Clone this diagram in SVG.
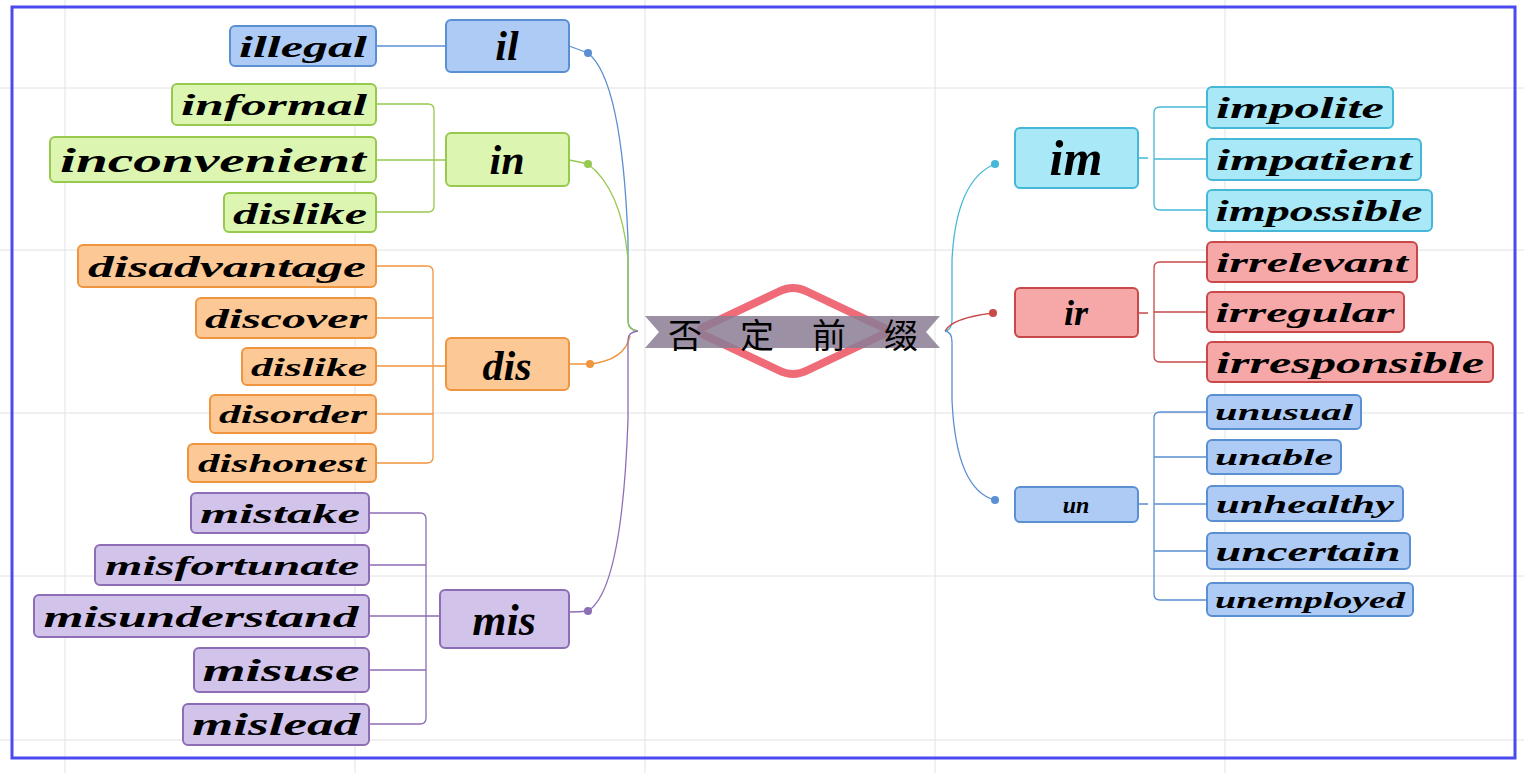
<svg xmlns="http://www.w3.org/2000/svg" width="1524" height="773" viewBox="0 0 1524 773">
<defs>
<style>
text{font-family:"Liberation Serif","Times New Roman",serif;font-weight:bold;font-style:italic;fill:#000;text-anchor:middle;dominant-baseline:central}
.b rect{fill:#aecbf6;stroke:#5a8fd2;stroke-width:2}
.g rect{fill:#dcf5b0;stroke:#98c94f;stroke-width:2}
.o rect{fill:#fcc895;stroke:#f0953f;stroke-width:2}
.p rect{fill:#d2c3ea;stroke:#8d6eb6;stroke-width:2}
.c rect{fill:#a8e8f7;stroke:#45b8d8;stroke-width:2}
.r rect{fill:#f6a8a8;stroke:#c94848;stroke-width:2}
.grid line{stroke:#e2e2e2;stroke-width:1}
.cn path{fill:none;stroke-width:1.3}
</style>
</defs>
<rect width="1524" height="773" fill="#fff"/>
<g class="grid">
<line x1="65" y1="0" x2="65" y2="773"/><line x1="355" y1="0" x2="355" y2="773"/><line x1="645" y1="0" x2="645" y2="773"/><line x1="935" y1="0" x2="935" y2="773"/><line x1="1225" y1="0" x2="1225" y2="773"/>
<line x1="0" y1="88" x2="1524" y2="88"/><line x1="0" y1="250" x2="1524" y2="250"/><line x1="0" y1="413" x2="1524" y2="413"/><line x1="0" y1="576" x2="1524" y2="576"/><line x1="0" y1="740" x2="1524" y2="740"/>
</g>
<rect x="12" y="7" width="1503" height="751" fill="none" stroke="#4a4af0" stroke-width="3"/>
<g id="connectors" class="cn">
<path d="M376 46H446" stroke="#5a8fd2"/>
<path d="M376 104H428Q434 104 434 110V206Q434 212 428 212H376M376 160H446" stroke="#98c94f"/>
<path d="M376 266H427Q433 266 433 272V457Q433 463 427 463H376M376 318H433M376 366H446M376 414H433" stroke="#f0953f"/>
<path d="M369 513H420Q426 513 426 519V718Q426 724 420 724H369M369 565H426M369 616H440M369 670H426" stroke="#8d6eb6"/>
<path d="M1138 158H1148M1207 107H1160Q1154 107 1154 113V204Q1154 210 1160 210H1207M1154 159H1207" stroke="#45b8d8"/>
<path d="M1138 313H1148M1207 262H1160Q1154 262 1154 268V356Q1154 362 1160 362H1207M1154 312H1207" stroke="#c94848"/>
<path d="M1138 504H1148M1207 412H1160Q1154 412 1154 418V594Q1154 600 1160 600H1207M1154 457H1207M1154 504H1207M1154 551H1207" stroke="#5a8fd2"/>
<path d="M569 46Q580 50 588 53Q622 80 628 240V320Q628 330 638 331" stroke="#5a8fd2"/>
<path d="M569 160Q580 162 588 164Q622 190 628 260V322Q628 330 638 331" stroke="#98c94f"/>
<path d="M569 364H590Q625 360 630 336" stroke="#f0953f"/>
<path d="M569 612Q580 612 588 611Q622 590 628 420V340Q628 332 638 331" stroke="#8d6eb6"/>
<path d="M945 331Q952 330 952 320V260Q956 180 995 164" stroke="#45b8d8"/>
<path d="M945 331Q952 318 993 313" stroke="#c94848"/>
<path d="M945 331Q952 332 952 342V400Q956 490 995 500" stroke="#5a8fd2"/>
<circle cx="588" cy="53" r="4" fill="#5a8fd2"/><circle cx="588" cy="164" r="4" fill="#98c94f"/><circle cx="590" cy="364" r="4" fill="#f0953f"/><circle cx="588" cy="611" r="4" fill="#8d6eb6"/>
<circle cx="995" cy="164" r="4" fill="#45b8d8"/><circle cx="993" cy="313" r="4" fill="#c94848"/><circle cx="995" cy="500" r="4" fill="#5a8fd2"/>
</g>
<g id="center">
<path d="M793 288Q800 288 808 292L880 326Q892 331 880 336L808 370Q800 374 793 374Q786 374 778 370L706 336Q694 331 706 326L778 292Q786 288 793 288Z" fill="#fff" stroke="#ef6b78" stroke-width="8"/>
<path d="M645 316H940L926 332L940 348H645L659 332Z" fill="#8b7c94" fill-opacity="0.85"/>
<text x="793" y="333" style="font-family:'Noto Sans CJK SC',sans-serif;font-style:normal;font-weight:normal" font-size="34" textLength="250" lengthAdjust="spacing">否定前缀</text>
</g>
<g id="il" class="b"><rect x="446" y="20" width="123" height="52" rx="5"/><text x="507" y="46" font-size="42">il</text></g>
<g id="illegal" class="b"><rect x="230" y="26" width="146" height="40" rx="5"/><text x="303" y="46" font-size="30" textLength="128" lengthAdjust="spacingAndGlyphs">illegal</text></g>
<g id="in" class="g"><rect x="446" y="133" width="123" height="53" rx="5"/><text x="507" y="160" font-size="42">in</text></g>
<g id="informal" class="g"><rect x="172" y="84" width="204" height="41" rx="5"/><text x="274" y="104" font-size="30" textLength="186" lengthAdjust="spacingAndGlyphs">informal</text></g>
<g id="inconvenient" class="g"><rect x="50" y="137" width="326" height="45" rx="5"/><text x="213" y="160" font-size="34" textLength="306" lengthAdjust="spacingAndGlyphs">inconvenient</text></g>
<g id="dislike1" class="g"><rect x="224" y="193" width="152" height="39" rx="5"/><text x="300" y="213" font-size="30" textLength="134" lengthAdjust="spacingAndGlyphs">dislike</text></g>
<g id="dis" class="o"><rect x="446" y="338" width="123" height="52" rx="5"/><text x="507" y="366" font-size="42">dis</text></g>
<g id="disadvantage" class="o"><rect x="78" y="245" width="298" height="42" rx="5"/><text x="227" y="266" font-size="30" textLength="278" lengthAdjust="spacingAndGlyphs">disadvantage</text></g>
<g id="discover" class="o"><rect x="196" y="298" width="180" height="40" rx="5"/><text x="286" y="318" font-size="28" textLength="162" lengthAdjust="spacingAndGlyphs">discover</text></g>
<g id="dislike2" class="o"><rect x="242" y="348" width="134" height="37" rx="5"/><text x="309" y="367" font-size="25" textLength="116" lengthAdjust="spacingAndGlyphs">dislike</text></g>
<g id="disorder" class="o"><rect x="210" y="395" width="166" height="38" rx="5"/><text x="293" y="414" font-size="26" textLength="148" lengthAdjust="spacingAndGlyphs">disorder</text></g>
<g id="dishonest" class="o"><rect x="188" y="444" width="188" height="38" rx="5"/><text x="282" y="463" font-size="26" textLength="168" lengthAdjust="spacingAndGlyphs">dishonest</text></g>
<g id="mis" class="p"><rect x="440" y="590" width="129" height="58" rx="5"/><text x="504" y="620" font-size="44">mis</text></g>
<g id="mistake" class="p"><rect x="191" y="493" width="178" height="40" rx="5"/><text x="280" y="513" font-size="28" textLength="160" lengthAdjust="spacingAndGlyphs">mistake</text></g>
<g id="misfortunate" class="p"><rect x="95" y="545" width="274" height="40" rx="5"/><text x="232" y="565" font-size="28" textLength="254" lengthAdjust="spacingAndGlyphs">misfortunate</text></g>
<g id="misunderstand" class="p"><rect x="34" y="595" width="335" height="42" rx="5"/><text x="201" y="616" font-size="30" textLength="315" lengthAdjust="spacingAndGlyphs">misunderstand</text></g>
<g id="misuse" class="p"><rect x="194" y="648" width="175" height="44" rx="5"/><text x="281" y="670" font-size="32" textLength="157" lengthAdjust="spacingAndGlyphs">misuse</text></g>
<g id="mislead" class="p"><rect x="183" y="704" width="186" height="41" rx="5"/><text x="276" y="724" font-size="32" textLength="168" lengthAdjust="spacingAndGlyphs">mislead</text></g>
<g id="im" class="c"><rect x="1015" y="128" width="123" height="60" rx="5"/><text x="1076" y="158" font-size="50">im</text></g>
<g id="impolite" class="c"><rect x="1207" y="87" width="186" height="41" rx="5"/><text x="1300" y="107" font-size="30" textLength="168" lengthAdjust="spacingAndGlyphs">impolite</text></g>
<g id="impatient" class="c"><rect x="1207" y="139" width="214" height="41" rx="5"/><text x="1314" y="159" font-size="30" textLength="196" lengthAdjust="spacingAndGlyphs">impatient</text></g>
<g id="impossible" class="c"><rect x="1207" y="190" width="225" height="41" rx="5"/><text x="1319" y="210" font-size="30" textLength="207" lengthAdjust="spacingAndGlyphs">impossible</text></g>
<g id="ir" class="r"><rect x="1015" y="288" width="123" height="49" rx="5"/><text x="1076" y="313" font-size="36">ir</text></g>
<g id="irrelevant" class="r"><rect x="1207" y="242" width="210" height="40" rx="5"/><text x="1312" y="262" font-size="28" textLength="192" lengthAdjust="spacingAndGlyphs">irrelevant</text></g>
<g id="irregular" class="r"><rect x="1207" y="292" width="197" height="40" rx="5"/><text x="1305" y="312" font-size="28" textLength="179" lengthAdjust="spacingAndGlyphs">irregular</text></g>
<g id="irresponsible" class="r"><rect x="1207" y="342" width="286" height="40" rx="5"/><text x="1350" y="362" font-size="30" textLength="268" lengthAdjust="spacingAndGlyphs">irresponsible</text></g>
<g id="un" class="b"><rect x="1015" y="487" width="123" height="35" rx="5"/><text x="1076" y="505" font-size="24">un</text></g>
<g id="unusual" class="b"><rect x="1207" y="395" width="154" height="34" rx="5"/><text x="1284" y="412" font-size="24" textLength="138" lengthAdjust="spacingAndGlyphs">unusual</text></g>
<g id="unable" class="b"><rect x="1207" y="440" width="134" height="34" rx="5"/><text x="1274" y="457" font-size="24" textLength="118" lengthAdjust="spacingAndGlyphs">unable</text></g>
<g id="unhealthy" class="b"><rect x="1207" y="486" width="196" height="35" rx="5"/><text x="1305" y="504" font-size="26" textLength="178" lengthAdjust="spacingAndGlyphs">unhealthy</text></g>
<g id="uncertain" class="b"><rect x="1207" y="533" width="203" height="36" rx="5"/><text x="1308" y="551" font-size="28" textLength="185" lengthAdjust="spacingAndGlyphs">uncertain</text></g>
<g id="unemployed" class="b"><rect x="1207" y="583" width="206" height="33" rx="5"/><text x="1310" y="600" font-size="24" textLength="190" lengthAdjust="spacingAndGlyphs">unemployed</text></g>
</svg>
